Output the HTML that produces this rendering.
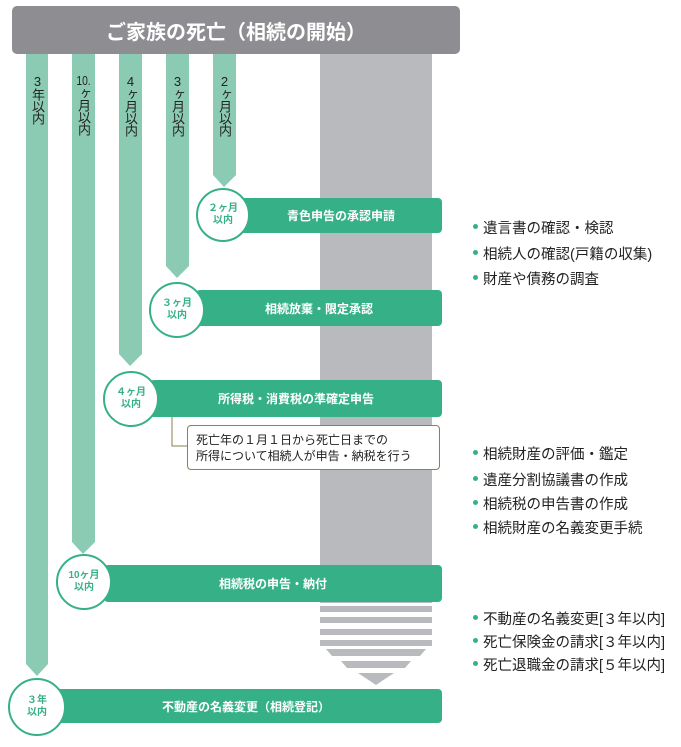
<!DOCTYPE html>
<html><head><meta charset="utf-8"><style>
body{margin:0;width:681px;height:747px;background:#fff;position:relative;overflow:hidden;font-family:"Liberation Sans","Noto Sans CJK JP",sans-serif}
.a{position:absolute}
.vt{position:absolute;writing-mode:vertical-rl;text-orientation:upright;font-size:13px;color:#222;line-height:1;letter-spacing:-1px}
.tc{text-combine-upright:all}
.gb{position:absolute;background:#36b187;border-radius:4px;color:#fff;font-weight:bold;font-size:12px;display:flex;align-items:center;justify-content:center}
.c{position:absolute;border:2px solid #36b187;background:#fff;border-radius:50%;color:#36b187;font-weight:bold;font-size:10px;line-height:12px;text-align:center;display:flex;align-items:center;justify-content:center;box-sizing:border-box}
.li{position:absolute;left:483px;font-size:14.5px;color:#222}
.li:before{content:"";position:absolute;left:-10px;top:7px;width:5px;height:5px;border-radius:50%;background:#36b187}
</style></head><body>
<svg class="a" style="left:0;top:0" width="681" height="747">
<g fill="#8ccbb3">
<polygon points="26,54 48,54 48,664 37,676 26,664"/>
<polygon points="72,54 95,54 95,542 83,554 72,542"/>
<polygon points="119,54 142,54 142,354 130,366 119,354"/>
<polygon points="166,54 189,54 189,266 177,278 166,266"/>
<polygon points="213,54 236,54 236,175 224,187 213,175"/>
</g>
<g fill="#b9babe">
<rect x="320" y="54" width="112" height="549"/>
<rect x="320" y="606" width="112" height="6"/>
<rect x="320" y="617" width="112" height="6"/>
<rect x="320" y="629" width="112" height="6"/>
<rect x="320" y="640" width="112" height="6"/>
<polygon points="326,649 426,649 420,656 332,656"/>
<polygon points="341,661 411,661 405,668 347,668"/>
<polygon points="358,673 394,673 376,685"/>
</g>
<polyline points="172,417 172,446 187,446" fill="none" stroke="#8a8050" stroke-width="1"/>
</svg>
<div class="a" style="left:12px;top:6px;width:448px;height:48px;background:#8e8e92;border-radius:5px;color:#fff;font-weight:bold;font-size:20px;display:flex;align-items:center;justify-content:center">ご家族の死亡（相続の開始）</div>
<div class="vt" style="left:31px;top:74px">3年以内</div>
<div class="vt" style="left:77px;top:74px"><span class="tc">10.</span>ヶ月以内</div>
<div class="vt" style="left:124px;top:74px">4ヶ月以内</div>
<div class="vt" style="left:171px;top:74px">3ヶ月以内</div>
<div class="vt" style="left:218px;top:74px">2ヶ月以内</div>
<div class="gb" style="left:240px;top:198px;width:202px;height:35px">青色申告の承認申請</div>
<div class="c" style="left:196px;top:188px;width:54px;height:54px">２ヶ月<br>以内</div>
<div class="gb" style="left:196px;top:290px;width:246px;height:36px">相続放棄・限定承認</div>
<div class="c" style="left:149px;top:282px;width:56px;height:56px">３ヶ月<br>以内</div>
<div class="gb" style="left:150px;top:380px;width:292px;height:37px">所得税・消費税の準確定申告</div>
<div class="c" style="left:103px;top:371px;width:56px;height:56px">４ヶ月<br>以内</div>
<div class="a" style="left:187px;top:425px;width:253px;height:45px;border:1px solid #8a8050;border-radius:4px;background:#fff;font-size:12px;line-height:16px;color:#222;box-sizing:border-box;padding:6px 0 0 8px">死亡年の１月１日から死亡日までの<br>所得について相続人が申告・納税を行う</div>
<div class="gb" style="left:104px;top:565px;width:338px;height:37px">相続税の申告・納付</div>
<div class="c" style="left:56px;top:554px;width:56px;height:56px">10ヶ月<br>以内</div>
<div class="gb" style="left:50px;top:689px;width:392px;height:34px">不動産の名義変更（相続登記）</div>
<div class="c" style="left:8px;top:678px;width:58px;height:58px">３年<br>以内</div>
<div class="li" style="top:217px">遺言書の確認・検認</div>
<div class="li" style="top:243px">相続人の確認(戸籍の収集)</div>
<div class="li" style="top:268px">財産や債務の調査</div>
<div class="li" style="top:443px">相続財産の評価・鑑定</div>
<div class="li" style="top:469px">遺産分割協議書の作成</div>
<div class="li" style="top:493px">相続税の申告書の作成</div>
<div class="li" style="top:517px">相続財産の名義変更手続</div>
<div class="li" style="top:608px">不動産の名義変更[３年以内]</div>
<div class="li" style="top:631px">死亡保険金の請求[３年以内]</div>
<div class="li" style="top:654px">死亡退職金の請求[５年以内]</div>
</body></html>
